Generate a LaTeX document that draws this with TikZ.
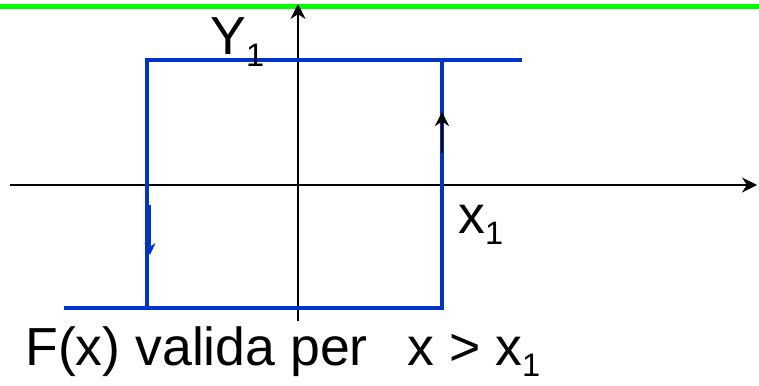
\documentclass[tikz,border=0pt]{standalone}
\usepackage{fontspec}
\setmainfont{Liberation Sans}
\usetikzlibrary{arrows.meta, positioning, calc}
\usepackage{xcolor}
\definecolor{LoopBlue}{HTML}{0033CC}
\definecolor{LimitGreen}{HTML}{00FF00}
\newcommand{\lsub}[1]{\raisebox{-0.22em}{\fontsize{18.5}{18.5}\selectfont #1}}
\tikzset{
  axis/.style={-{Stealth[length=3mm, width=3mm]}, line width=1.1pt, draw=black},
  loopline/.style={line width=2.3pt, draw=LoopBlue},
  limit/.style={line width=2.3pt, draw=LimitGreen},
  dirup/.style={-{Stealth[length=2.8mm, width=2.8mm]}, line width=1.3pt, draw=black},
  dirdown/.style={-{Stealth[length=2.4mm, width=2.2mm]}, line width=1.6pt, draw=LoopBlue},
  lbl/.style={anchor=base west, inner sep=0pt, font=\fontsize{30.5}{31}\selectfont},
}
\begin{document}
\begin{tikzpicture}
  \useasboundingbox (0,0) rectangle (15.18,7.7);
  % reference level
  \coordinate (gl) at (0,7.57);
  \coordinate (gr) at (15.18,7.57);
  \draw[limit] (gl) -- (gr);
  % axes
  \coordinate (xa) at (0.2,4.0);
  \coordinate (xb) at (15.14,4.0);
  \coordinate (ya) at (5.96,1.28);
  \coordinate (yb) at (5.96,7.62);
  \draw[axis] (xa) -- (xb);
  \draw[axis] (ya) -- (yb);
  % hysteresis loop
  \coordinate (bl) at (1.28,1.54);
  \coordinate (lb) at (2.94,1.54);
  \coordinate (lt) at (2.94,6.5);
  \coordinate (tr) at (10.44,6.5);
  \coordinate (rt) at (8.84,6.5);
  \coordinate (rb) at (8.84,1.54);
  \draw[loopline] (bl) -- (rb) -- (rt);
  \draw[loopline] (tr) -- (lt) -- (lb);
  % direction marks
  \coordinate (d1) at (3.0,3.6);
  \coordinate (d2) at (3.0,2.6);
  \draw[dirdown] (d1) -- (d2);
  \coordinate (u1) at (8.84,4.64);
  \coordinate (u2) at (8.84,5.46);
  \draw[dirup] (u1) -- (u2);
  % labels
  \node[lbl] (ylab) at (4.2,6.6) {Y\lsub{1}};
  \node[lbl] (xlab) at (9.16,3.04) {x\lsub{1}};
  \node[lbl] (cond) at (0.5,0.4) {F(x) valida per};
  \node[lbl] (ineq) at (8.14,0.4) {x > x\lsub{1}};
\end{tikzpicture}
\end{document}
